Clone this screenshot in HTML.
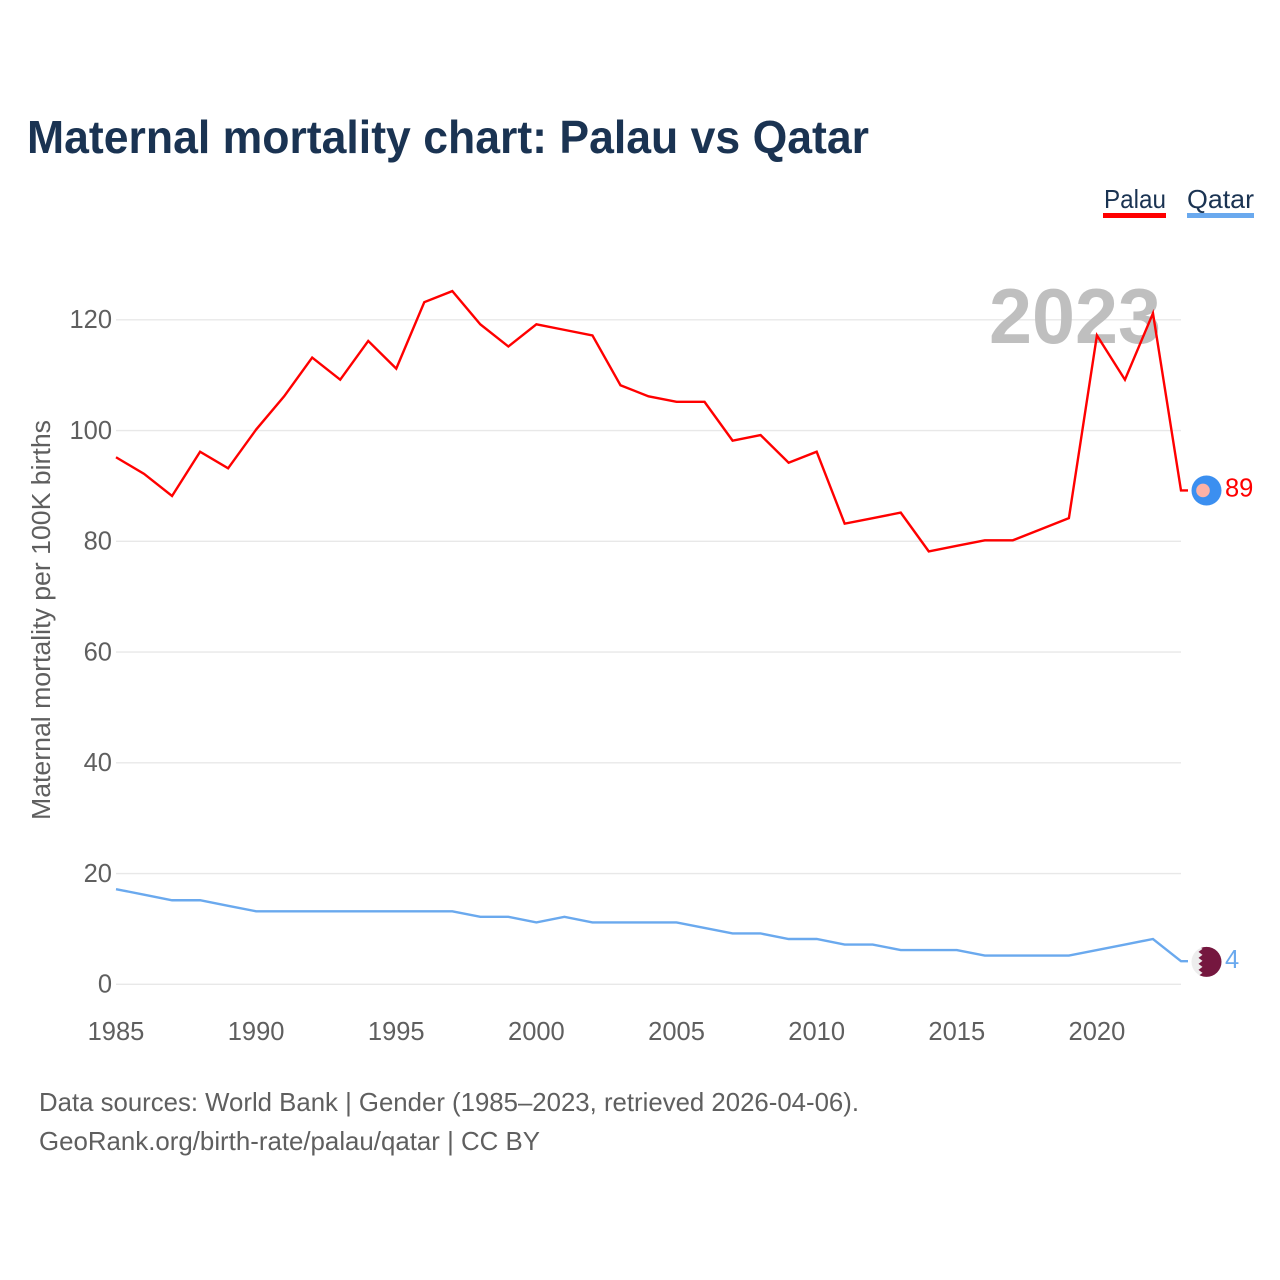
<!DOCTYPE html>
<html>
<head>
<meta charset="utf-8">
<title>Maternal mortality chart: Palau vs Qatar</title>
<style>
html,body{margin:0;padding:0;background:#fff;width:1280px;height:1280px;overflow:hidden}
svg{display:block}
text{font-family:"Liberation Sans",sans-serif}
</style>
</head>
<body>
<svg id="chart" width="1280" height="1280" viewBox="0 0 1280 1280" xmlns="http://www.w3.org/2000/svg">
<defs>
<clipPath id="flag-clip"><circle cx="0" cy="0" r="15"></circle></clipPath>
</defs>
<rect width="1280" height="1280" fill="#fff"></rect>
<text x="27" y="153" font-size="46" font-weight="700" fill="#1a3352" textLength="842" lengthAdjust="spacingAndGlyphs">Maternal mortality chart: Palau vs Qatar</text>
<g>
<g>
<text x="1104" y="208" font-size="26" fill="#1a3352" textLength="62" lengthAdjust="spacingAndGlyphs">Palau</text>
<rect x="1103" y="213" width="63" height="5" fill="#ff0000"></rect>
</g>
<g>
<text x="1187" y="208" font-size="26" fill="#1a3352" textLength="67" lengthAdjust="spacingAndGlyphs">Qatar</text>
<rect x="1187" y="213" width="67" height="5" fill="#6aa9ee"></rect>
</g>
</g>
<g id="grid"></g>
<g id="yticks"></g>
<g id="xticks"></g>
<text transform="translate(50 820) rotate(-90)" font-size="25.5" fill="#5f5f5f" textLength="400" lengthAdjust="spacingAndGlyphs">Maternal mortality per 100K births</text>
<text x="989" y="343" font-size="78" font-weight="700" fill="#bfbfbf" textLength="172" lengthAdjust="spacingAndGlyphs">2023</text>
<g id="series"></g>
<g id="ends"></g>
<g>
<text x="39" y="1111" font-size="26" fill="#5f5f5f" textLength="820" lengthAdjust="spacingAndGlyphs">Data sources: World Bank | Gender (1985–2023, retrieved 2026-04-06).</text>
<text x="39" y="1150" font-size="26" fill="#5f5f5f" textLength="501" lengthAdjust="spacingAndGlyphs">GeoRank.org/birth-rate/palau/qatar | CC BY</text>
</g>
</svg>
<script>
const years = [1985,1986,1987,1988,1989,1990,1991,1992,1993,1994,1995,1996,1997,1998,1999,2000,2001,2002,2003,2004,2005,2006,2007,2008,2009,2010,2011,2012,2013,2014,2015,2016,2017,2018,2019,2020,2021,2022,2023];
const palauValues = [95,92,88,96,93,100,106,113,109,116,111,123,125,119,115,119,118,117,108,106,105,105,98,99,94,96,83,84,85,78,79,80,80,82,84,117,109,121,89];
const qatarValues = [17,16,15,15,14,13,13,13,13,13,13,13,13,12,12,11,12,11,11,11,11,10,9,9,8,8,7,7,6,6,6,5,5,5,5,6,7,8,4];
const yTickValues = [0,20,40,60,80,100,120];
const xTickValues = [1985,1990,1995,2000,2005,2010,2015,2020];

const NS = 'http://www.w3.org/2000/svg';
function xScale(year){ return 116 + (year - 1985) * (1181 - 116) / 38; }
function yScale(v){ return 984 - v * (984 - 319.5) / 120; }
function make(tag, attrs, parent, txt){
  const el = document.createElementNS(NS, tag);
  for (const k in attrs) el.setAttribute(k, attrs[k]);
  if (txt !== undefined) el.textContent = txt;
  parent.appendChild(el);
  return el;
}
const gridG = document.getElementById('grid');
const yG = document.getElementById('yticks');
const xG = document.getElementById('xticks');
const seriesG = document.getElementById('series');
const endsG = document.getElementById('ends');

yTickValues.forEach(function(v){
  const line = make('line', {x1:116, x2:1181, y1:yScale(v) + 0.3, y2:yScale(v) + 0.3, stroke:'#e8e8e8', 'stroke-width':1.3}, gridG);
  
  
  const label = make('text', {x:112, y:yScale(v) + 8.5, 'text-anchor':'end', 'font-size':25.5, fill:'#5f5f5f'}, yG, String(v));
  
  
});
xTickValues.forEach(function(y){
  const label = make('text', {x:xScale(y), y:1040, 'text-anchor':'middle', 'font-size':25.5, fill:'#5f5f5f'}, xG, String(y));
  
  
});

function drawSeries(values, color){
  const pts = values.map(function(v, i){ return xScale(years[i]).toFixed(2) + ',' + (yScale(v) - 0.7).toFixed(2); });
  const last = values[values.length - 1];
  pts.push('1188,' + (yScale(last) - 0.7).toFixed(2));
  return make('polyline', {points:pts.join(' '), fill:'none', stroke:color, 'stroke-width':2.4, 'stroke-linejoin':'miter'}, seriesG);
}
const palauLine = drawSeries(palauValues, '#ff0000');


const qatarLine = drawSeries(qatarValues, '#6aa9ee');



const palauLast = palauValues[palauValues.length - 1];
const qatarLast = qatarValues[qatarValues.length - 1];

const palauFlag = make('g', {transform:'translate(1206.5 ' + (yScale(palauLast) - 0.7) + ')'}, endsG);


make('circle', {cx:0, cy:0, r:15, fill:'#3b8ff0'}, palauFlag);
make('circle', {cx:-3.5, cy:0, r:6.8, fill:'#fdb2a6'}, palauFlag);
const palauValue = make('text', {x:1225, y:yScale(palauLast) + 5.5, 'font-size':25.5, fill:'#ff0000'}, endsG, String(palauLast));



const qatarFlag = make('g', {transform:'translate(1206.5 ' + yScale(qatarLast) + ')'}, endsG);


const flagClip = make('g', {'clip-path':'url(#flag-clip)'}, qatarFlag);
make('rect', {x:-15, y:-15, width:30, height:30, fill:'#ededed'}, flagClip);
make('polygon', {points:'16,-16 -8,-16 -4,-13 -8,-10 -4,-7 -8,-4 -4,-1 -8,2 -4,5 -8,8 -4,11 -8,14 -4,16 16,16', fill:'#75173f'}, flagClip);
const qatarValue = make('text', {x:1225, y:yScale(qatarLast) + 6, 'font-size':25.5, fill:'#6aa9ee'}, endsG, String(qatarLast));


</script>
</body>
</html>
